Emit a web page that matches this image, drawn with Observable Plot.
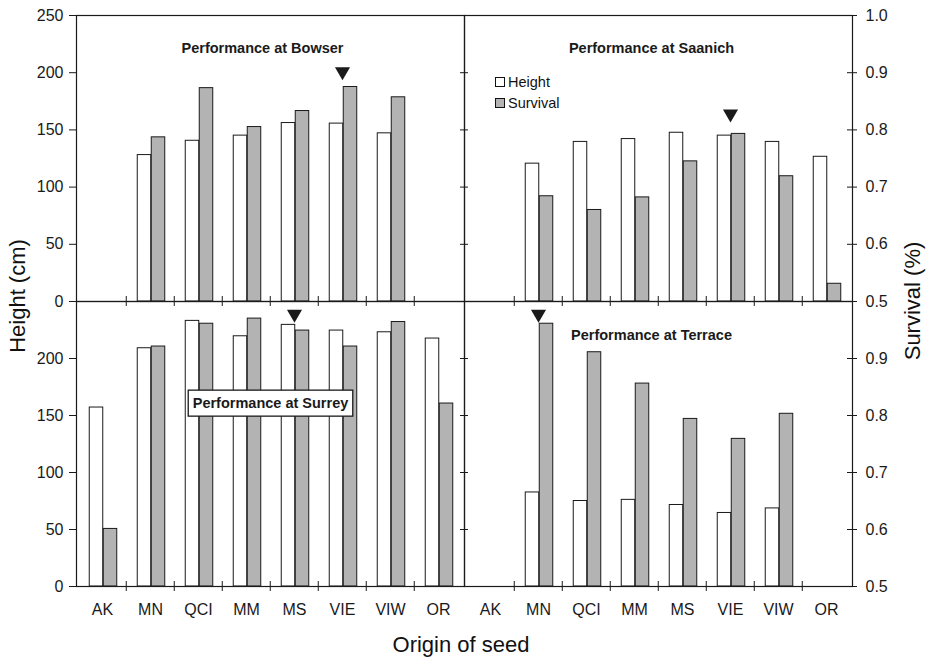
<!DOCTYPE html>
<html><head><meta charset="utf-8">
<script src="https://cdn.jsdelivr.net/npm/d3@7"></script>
<script src="https://cdn.jsdelivr.net/npm/@observablehq/plot@0.6"></script>
<style>
body{margin:0;background:#fff;font-family:"Liberation Sans",Arial,sans-serif;}
#chart{position:relative;width:926px;height:665px;overflow:hidden;background:#fff;}
#chart svg{position:absolute;left:0;top:0;}
.lbl{position:absolute;transform:translate(-50%,-50%);white-space:nowrap;font-size:22px;color:#111;line-height:1;}
.rot{transform:translate(-50%,-50%) rotate(-90deg);}
.legend{position:absolute;left:495px;top:71.5px;font-size:14.5px;color:#111;}
.legend div{display:flex;align-items:center;height:21px;}
.legend span.sw{display:inline-block;width:10px;height:10px;border:1px solid #111;box-sizing:border-box;margin-right:3px;}
</style></head>
<body><div id="chart"></div>
<script>
// ---- data ----
const origins = ["AK","MN","QCI","MM","MS","VIE","VIW","OR"];
const bowserHeight    = [null,128,140.5,145,156,155.5,147,null];
const bowserSurvival  = [null,0.787,0.873,0.805,0.833,0.875,0.857,null];
const saanichHeight   = [null,120.5,139.5,142,147.5,145,139.5,126.5];
const saanichSurvival = [null,0.684,0.660,0.682,0.745,0.793,0.719,0.531];
const surreyHeight    = [157,209,233,219.5,229.5,224.5,223,217.5];
const surreySurvival  = [0.601,0.921,0.961,0.970,0.949,0.921,0.964,0.821];
const terraceHeight   = [null,82.5,75,76,71.5,64.5,68.5,null];
const terraceSurvival = [null,0.961,0.911,0.856,0.794,0.759,0.803,null];
const heightTicks = [0,50,100,150,200,250];
const survivalTicks = [0.5,0.6,0.7,0.8,0.9,1.0];
const siteNames = ["Bowser","Saanich","Surrey","Terrace"];
const markerOrigins = ["VIE","VIE","MS","MN"];
const markerHeights = [201,164,239,239];
const legendLabels = ["Height","Survival"];
const xTitle = "Origin of seed", yTitle = "Height (cm)", y2Title = "Survival (%)";

// ---- layout ----
const W = 926, H = 665;
const colX = [76,464,852];
const rowY = [15,301,586];
const ink = "#1a1a1a", grey = "#b3b3b3";
const survToH = d3.scaleLinear([0.5,1.0],[0,250]);

const panels = [
  {h: bowserHeight,  s: bowserSurvival,  col:0, row:0, tdx:-8, tdy:33},
  {h: saanichHeight, s: saanichSurvival, col:1, row:0, tdx:-7, tdy:33},
  {h: surreyHeight,  s: surreySurvival,  col:0, row:1, tdx:0,  tdy:102, boxed:true},
  {h: terraceHeight, s: terraceSurvival, col:1, row:1, tdx:-7, tdy:34}
];

const chart = document.getElementById("chart");

panels.forEach((p, k) => {
  const pw = colX[p.col+1]-colX[p.col], ph = rowY[p.row+1]-rowY[p.row];
  const bw = pw / origins.length;
  const data = origins.map((o,i) => ({origin:o, height:p.h[i], survival:p.s[i]}));
  const hTicks = p.row === 0 ? heightTicks : heightTicks.slice(0,-1);
  const sTicks = (p.row === 0 ? survivalTicks : survivalTicks.slice(0,-1)).map(v => survToH(v));
  const marks = [
    Plot.barY(data.filter(d => d.height != null), {x:"origin", y:"height", fill:"white", stroke:ink, strokeWidth:1, insetLeft:bw/2-13, insetRight:bw/2-1}),
    Plot.barY(data.filter(d => d.survival != null), {x:"origin", y:d => survToH(d.survival), fill:grey, stroke:ink, strokeWidth:1, insetLeft:bw/2+1, insetRight:bw/2-15}),
    Plot.frame({stroke:ink, strokeWidth:1.2}),
    // category boundary ticks crossing the baseline
    Plot.ruleX(origins.slice(1), {x:d => d, dx:-bw/2, insetTop:ph-5, insetBottom:-5, stroke:ink}),
    Plot.dot([{origin:markerOrigins[k], y:markerHeights[k]}], {x:"origin", y:"y", symbol:"triangle", r:5.6, fill:ink, rotate:180}),
    Plot.text(["Performance at " + siteNames[k]], {text:d => d, frameAnchor:"top", lineAnchor:"middle", dx:p.tdx, dy:p.tdy, fontWeight:"bold", fontSize:14.5, fill:ink})
  ];
  if (p.col === 0) {
    marks.push(Plot.axisY(hTicks, {anchor:"left", tickSize:7, tickPadding:6, label:null, stroke:ink, fill:ink}));
  } else {
    // ticks crossing the middle divider
    marks.push(Plot.ruleY(heightTicks.slice(1,-1), {y:d => d, insetLeft:-4, insetRight:pw-4, stroke:ink}));
    // ticks crossing the right (survival) axis
    marks.push(Plot.ruleY(sTicks, {y:d => d, insetLeft:pw-5, insetRight:-5, stroke:ink}));
    marks.push(Plot.axisY(sTicks, {anchor:"right", tickSize:0, tickPadding:13, label:null, fill:ink, tickFormat:d => survToH.invert(d).toFixed(1)}));
  }
  if (p.row === 1) {
    marks.push(Plot.axisX({anchor:"bottom", tickSize:0, tickPadding:17, label:null, fill:ink}));
  }
  const svg = Plot.plot({
    width:W, height:H,
    marginLeft:colX[p.col], marginRight:W-colX[p.col+1],
    marginTop:rowY[p.row], marginBottom:H-rowY[p.row+1],
    x:{type:"band", domain:origins, padding:0, axis:null},
    y:{domain:[0,250], axis:null},
    style:{background:"transparent", fontFamily:'"Liberation Sans", Arial, sans-serif', fontSize:"16px", color:ink, overflow:"visible"},
    marks
  });
  chart.appendChild(svg);
  if (p.boxed) {
    d3.select(svg).selectAll('g[aria-label="text"] text').each(function() {
      const b = this.getBBox();
      const r = document.createElementNS("http://www.w3.org/2000/svg","rect");
      r.setAttribute("x", b.x-4.5); r.setAttribute("y", b.y-5);
      r.setAttribute("width", b.width+9); r.setAttribute("height", b.height+10);
      r.setAttribute("fill","white"); r.setAttribute("stroke",ink); r.setAttribute("stroke-width",1.3);
      const t = this.getAttribute("transform");
      if (t) r.setAttribute("transform", t);
      this.parentNode.insertBefore(r, this);
    });
  }
});

// legend (Saanich panel)
const leg = document.createElement("div");
leg.className = "legend";
leg.innerHTML = legendLabels.map((l,i) => `<div><span class="sw" style="background:${i ? grey : "#fff"}"></span>${l}</div>`).join("");
chart.appendChild(leg);

// axis titles
function addLabel(text, x, y, rot) {
  const d = document.createElement("div");
  d.className = "lbl" + (rot ? " rot" : "");
  d.style.left = x + "px"; d.style.top = y + "px";
  d.textContent = text;
  chart.appendChild(d);
}
addLabel(yTitle, 17.5, 296, true);
addLabel(y2Title, 913, 301, true);
addLabel(xTitle, 461, 645, false);
</script></body></html>
